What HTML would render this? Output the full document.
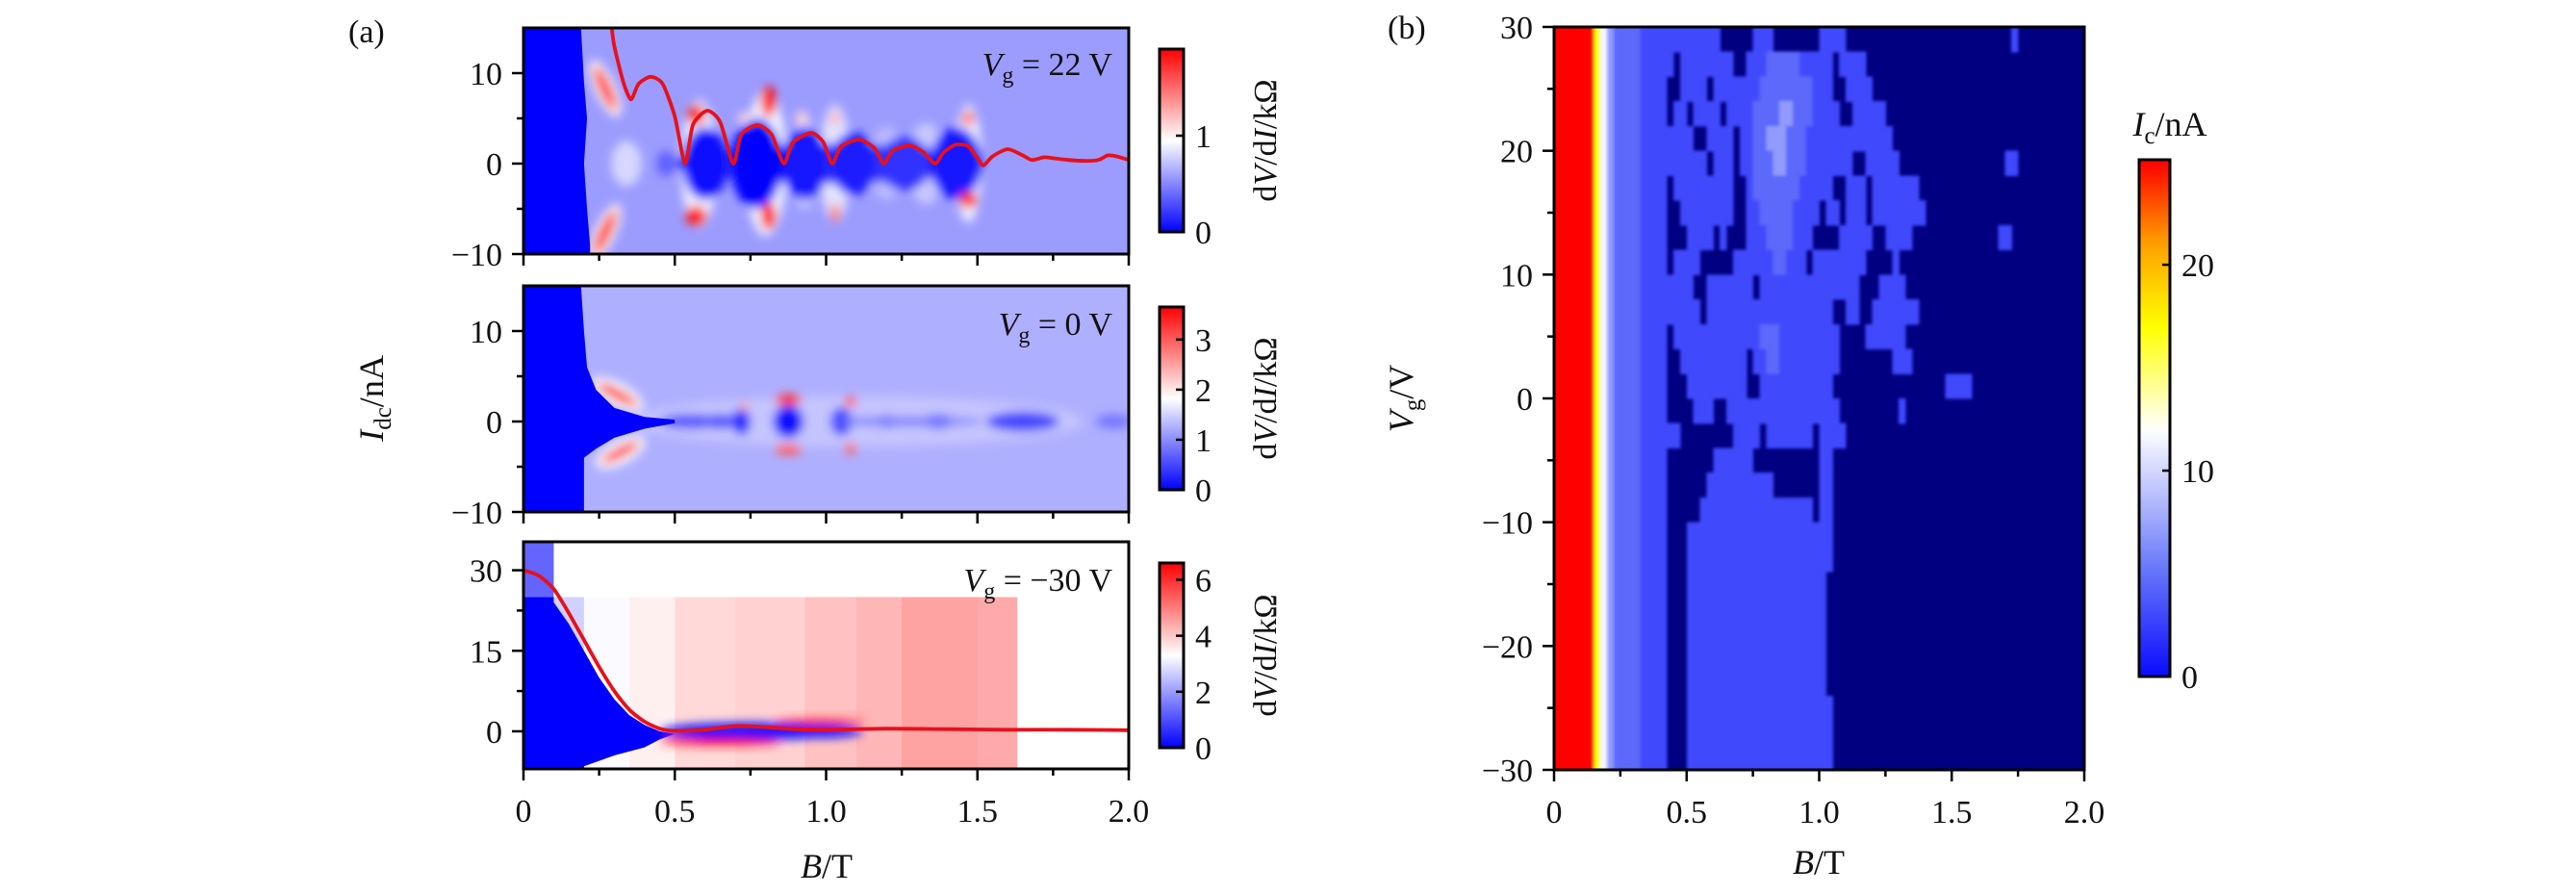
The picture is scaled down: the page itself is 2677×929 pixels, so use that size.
<!DOCTYPE html>
<html><head><meta charset="utf-8"><style>
html,body{margin:0;padding:0;background:#fff;}
svg{display:block;font-family:"Liberation Serif",serif;}
</style></head><body>
<svg id="fig" width="2677" height="929" viewBox="0 0 2677 929" xmlns="http://www.w3.org/2000/svg">
<defs>
<filter id="blur" x="-30%" y="-30%" width="160%" height="160%"><feGaussianBlur stdDeviation="5"/></filter>
<filter id="blurB" x="-5%" y="-5%" width="110%" height="110%"><feGaussianBlur stdDeviation="1.6"/></filter>
<clipPath id="clipTop"><rect x="544" y="29" width="629" height="235"/></clipPath>
<clipPath id="clipMid"><rect x="544" y="297" width="629" height="235"/></clipPath>
<clipPath id="clipBot"><rect x="544" y="563" width="629" height="236"/></clipPath>
<clipPath id="clipB"><rect x="1615" y="28" width="551" height="772"/></clipPath>
</defs>
<g id="layer"></g>
</svg>
<script>
// ---------- data: panel (a) top, Vg = 22 V ----------
const topCurveB = [0.29,0.30,0.33,0.355,0.38,0.42,0.46,0.50,0.534,0.56,0.607,0.65,0.693,0.72,0.773,0.82,0.86,0.89,0.95,0.99,1.02,1.05,1.11,1.16,1.19,1.22,1.275,1.32,1.36,1.39,1.43,1.47,1.50,1.52,1.55,1.60,1.65,1.68,1.72,1.75,1.80,1.86,1.90,1.93,1.96,2.0];
const topCurveI = [15.5,13,9,7.1,8.8,9.6,8.8,5.2,0,4.3,5.85,4.6,0,3.2,4.26,3.2,0,2.3,3.4,2.4,0,1.9,2.66,1.7,0,1.4,2.0,1.3,0,1.3,2.1,1.9,0.6,-0.2,0.8,1.6,0.9,0.4,0.7,0.6,0.4,0.3,0.4,0.9,0.8,0.4];
const topScB = [0,0.19,0.20,0.21,0.20,0.21,0.22,0.22,0];
const topScI = [15,15,9,5,0,-5,-9,-10,-10];
// blobs: B, I, halfwidth B, halfheight I, dV/dI, rotation
const topBlobs = [
 [0.58,0,0.06,7,0.9,0],[0.8,0,0.07,8,0.9,0],[1.03,0,0.05,6.5,0.85,0],[1.47,0,0.045,6.5,0.9,0],[0.93,0,0.05,5,0.75,0],[1.2,0,0.06,4,0.7,0],[1.33,0,0.06,4.5,0.75,0],
 [0.27,8.3,0.035,3.4,1.0,-25],[0.27,-7.6,0.035,3.4,1.0,25],[0.34,0,0.05,2.5,0.8,0],
 [1.0,0,0.5,2.2,0.2,0],[0.6,0,0.075,4,0.05,0],[0.77,0,0.085,5,0.0,0],[0.93,0,0.075,4,0.08,0],[1.09,0,0.075,3.5,0.1,0],[1.26,0,0.085,3,0.18,0],[1.43,0,0.085,4,0.08,0],[0.47,0,0.03,1.4,0.35,0],
 [0.57,5.4,0.03,1.1,1.7,0],[0.57,-5.8,0.035,1.1,1.8,0],[0.81,6.9,0.024,1.7,1.9,0],[0.81,-5.8,0.024,1.5,1.9,0],[1.03,5,0.012,0.8,1.3,0],[1.03,-5.5,0.015,1,1.5,0],[1.47,5,0.02,0.8,1.5,0],[1.47,-4,0.03,0.9,1.7,0],[0.73,5,0.02,0.7,1.1,0],[0.92,5,0.02,0.8,1.1,0],
 [0.27,8.3,0.018,2.6,1.9,-25],[0.27,-7.6,0.018,2.6,1.9,25]
];
const topBg = 0.58, topMax = 1.9, topTicks = [0,1];
// ---------- data: panel (a) middle, Vg = 0 V ----------
const midScB = [0,0.19,0.20,0.21,0.24,0.30,0.40,0.50,0.50,0.40,0.30,0.24,0.20,0.20,0];
const midScI = [15,15,10,6,3.5,1.5,0.5,0.2,-0.2,-0.8,-1.8,-3,-4,-10,-10];
const midBlobs = [
 [1.1,0,0.75,2.8,1.4,0],[0.31,3,0.095,1.3,1.8,28],[0.32,-3.4,0.09,1.3,1.8,-28],
 [0.55,0,0.1,0.8,0.6,0],[0.65,0,0.06,0.8,0.6,0],[0.72,0,0.03,1.5,0.3,0],[0.875,0,0.05,1.8,0.05,0],[1.05,0,0.035,1.5,0.3,0],[1.2,0,0.03,0.7,0.7,0],[1.37,0,0.05,0.8,0.6,0],[1.65,0,0.12,1.1,0.5,0],[1.95,0,0.06,0.8,0.85,0],[1.27,0,0.25,0.5,0.9,0],
 [0.875,2.4,0.045,0.6,3.3,0],[0.875,-3.1,0.045,0.6,3.0,0],[1.08,2.2,0.02,0.6,3.0,0],[1.08,-3,0.02,0.6,3.0,0],[0.73,1.6,0.015,0.5,2.5,0],
 [0.31,3,0.075,0.55,3.5,28],[0.32,-3.4,0.07,0.55,3.4,-28]
];
const midBg = 1.25, midMax = 3.65, midTicks = [0,1,2,3];
// ---------- data: panel (a) bottom, Vg = -30 V ----------
const botCurveB = [0,0.05,0.1,0.15,0.2,0.25,0.3,0.35,0.4,0.45,0.5,0.6,0.7,0.8,0.9,1.0,1.2,1.4,1.6,1.8,2.0];
const botCurveI = [30,29,26.5,22,17,12,7.5,4,1.8,0.5,0.1,0.3,1.0,0.8,0.4,0.3,0.5,0.4,0.3,0.3,0.2];
const bandStart = [0.1,0.2,0.35,0.5,0.7,0.93,1.1,1.25,1.5];
const bandEnd   = [0.2,0.35,0.5,0.7,0.93,1.1,1.25,1.5,1.63];
const bandVal   = [2.7,3.25,3.5,3.8,3.9,4.1,4.25,4.5,4.4];
const botScB = [0,0.1,0.1,0.15,0.2,0.25,0.3,0.35,0.4,0.45,0.5,0.45,0.4,0.3,0.2,0.2,0];
const botScI = [25,25,24,20,15,10,6,3,1.2,0,-0.5,-1.5,-3,-4.5,-6.5,-7,-7];
const botBlobs = [
 [0.75,0,0.3,1.6,0.1,0],[0.98,0,0.14,1.2,0.2,0],
 [0.65,-2.0,0.2,0.7,6.3,0],[0.98,1.8,0.15,0.6,6.0,0],[0.52,-1.8,0.06,0.6,6.0,0]
];
const botBlock = [0,0.1,25,35.3,1.3];
const botMax = 6.6, botTicks = [0,2,4,6];
// ---------- data: panel (b), Ic map, rows Vg 30..-30 step 2, cols B step 0.025 ----------
const icPrefix = "RRRRRRYW322221111";
const icRows = [
"11111111000001110000000111100000000000000000000000001",
"10111111110011122222111110111100000000000000000000000",
"00111101111111222222221110011110000000000000000000000",
"01101111011112222332221111001111100000000000000000000",
"11110011110112233322211111111111110000000000000000000",
"11111101110112223322211111110011111000000000000000011",
"01111111110012222222111110011101111111000000000000000",
"00111111110011222221111011011101111111100000000000000",
"00011110100011122221110000111110011110000000000000110",
"01111000001111112211101111111100001000000000000000000",
"11110011111110111111111111111000111100000000000000000",
"11111011111111111111111110011001111111000000000000000",
"01111111111111222111111111000011111100000000000000000",
"00111111111101122111111111000000001110000000000000000",
"00011111111100111111111110000000000000000011110000000",
"00001110011111111111111111000000000100000000000000000",
"11000000001111011111110111100000000000000000000000000",
"00000001111110000000000110000000000000000000000000000",
"00000011111111110000000110000000000000000000000000000",
"00000111111111111111110110000000000000000000000000000",
"00011111111111111111111110000000000000000000000000000",
"00011111111111111111111110000000000000000000000000000",
"00011111111111111111111100000000000000000000000000000",
"00011111111111111111111100000000000000000000000000000",
"00011111111111111111111100000000000000000000000000000",
"00011111111111111111111100000000000000000000000000000",
"00011111111111111111111100000000000000000000000000000",
"00011111111111111111111110000000000000000000000000000",
"00011111111111111111111110000000000000000000000000000",
"00011111111111111111111110000000000000000000000000000"
];
const icCodes = "0123WYR";
const icVals = [-1,3,4.5,7,11.5,17,25];
const icMax = 25.1, icTicks = [0,10,20];

// ---------- helpers ----------
const NS = "http://www.w3.org/2000/svg";
const layer = document.getElementById('layer');
function mk(tag, attrs, parent){const e=document.createElementNS(NS,tag);for(const k in attrs)e.setAttribute(k,attrs[k]);(parent||layer).appendChild(e);return e;}
const ax = B => 544 + B*629/2;
const yTop = I => 29 + (15-I)*235/25;
const yMid = I => 297 + (15-I)*235/25;
const yBot = I => 563 + (35.3-I)*236/42.3;
const bx = B => 1615 + B*551/2;
const by = V => 28 + (30-V)*772/60;
function bwr(t){t=Math.max(0,Math.min(1,t));let r,g,b;if(t<0.5){r=g=Math.round(510*t);b=255;}else{r=255;g=b=Math.round(510*(1-t));}return `rgb(${r},${g},${b})`;}
const icStops=[[0,[10,10,255]],[5,[100,115,250]],[12,[255,255,255]],[17,[255,255,0]],[21,[255,160,0]],[25,[255,0,0]]];
function icColor(v){if(v<0)return "#000080";for(let i=0;i<icStops.length-1;i++){const a=icStops[i],b=icStops[i+1];if(v<=b[0]){const f=(v-a[0])/(b[0]-a[0]);return `rgb(${a[1].map((c,j)=>Math.round(c+(b[1][j]-c)*f)).join(',')})`;}}return "rgb(255,0,0)";}

function drawBlobs(list, yf, vmax, parent, sy){
  list.forEach(bl=>{
    const cx=ax(bl[0]), cy=yf(bl[1]);
    const e=mk('ellipse',{cx:cx,cy:cy,rx:bl[2]*629/2,ry:bl[3]*sy,fill:bwr(bl[4]/vmax),transform:`rotate(${bl[5]} ${cx} ${cy})`},parent);
    
    
  });
}
function poly(Bs,Is,yf,fill,parent,name){
  const pts=Bs.map((b,i)=>ax(b)+','+yf(Is[i])).join(' ');
  const e=mk('polygon',{points:pts,fill:fill},parent);
  
  
}
function curve(Bs,Is,yf,parent,name){
  const P=Bs.map((b,i)=>[ax(b),yf(Is[i])]);
  let d='M'+P[0][0].toFixed(1)+','+P[0][1].toFixed(1);
  for(let i=0;i<P.length-1;i++){
    const p0=P[Math.max(0,i-1)],p1=P[i],p2=P[i+1],p3=P[Math.min(P.length-1,i+2)];
    const t=0.12;
    const c1=[p1[0]+(p2[0]-p0[0])*t,p1[1]+(p2[1]-p0[1])*t];
    const c2=[p2[0]-(p3[0]-p1[0])*t,p2[1]-(p3[1]-p1[1])*t];
    d+=` C${c1[0].toFixed(1)},${c1[1].toFixed(1)} ${c2[0].toFixed(1)},${c2[1].toFixed(1)} ${p2[0].toFixed(1)},${p2[1].toFixed(1)}`;
  }
  const e=mk('path',{d:d,fill:'none',stroke:'#e8101a','stroke-width':3.8,'stroke-linejoin':'round'},parent);
  
  
}
function text(x,y,str,attrs,parent){const t=mk('text',Object.assign({x:x,y:y,'font-size':34,fill:'#111'},attrs||{}),parent);t.textContent=str;return t;}
function frame(x,y,w,h,name){const r=mk('rect',{x:x,y:y,width:w,height:h,fill:'none',stroke:'#000','stroke-width':3});}
function xTicks(x0f,yb,labels,name){
  const g=mk('g',{});
  [0,0.25,0.5,0.75,1,1.25,1.5,1.75,2].forEach(v=>{const maj=(v*2)%1===0;mk('line',{x1:x0f(v),x2:x0f(v),y1:yb,y2:yb+(maj?12:7),stroke:'#000','stroke-width':2.5},g);});
  if(labels){['0','0.5','1.0','1.5','2.0'].forEach((s,i)=>{text(x0f(i*0.5),yb+55,s,{'text-anchor':'middle'},g);});}
}
function yTicks(xl,yf,majors,minors,name){
  const g=mk('g',{});
  majors.forEach(v=>{mk('line',{x1:xl-12,x2:xl,y1:yf(v),y2:yf(v),stroke:'#000','stroke-width':2.5},g);text(xl-22,yf(v)+12,v<0?'−'+(-v):String(v),{'text-anchor':'end'},g);});
  minors.forEach(v=>{mk('line',{x1:xl-7,x2:xl,y1:yf(v),y2:yf(v),stroke:'#000','stroke-width':2.5},g);});
}
function colorbar(x,y0,y1,w,vmax,ticks,cfun,id,name){
  const g=mk('g',{});
  const grad=mk('linearGradient',{id:id,x1:0,y1:1,x2:0,y2:0},document.querySelector('defs'));
  for(let i=0;i<=40;i++){mk('stop',{offset:i/40,'stop-color':cfun(vmax*i/40)},grad);}
  mk('rect',{x:x,y:y0,width:w,height:y1-y0,fill:`url(#${id})`,stroke:'#000','stroke-width':3},g);
  ticks.forEach(v=>{const yy=y1-(y1-y0)*v/vmax;mk('line',{x1:x+w-8,x2:x+w,y1:yy,y2:yy,stroke:'#000','stroke-width':2.5},g);text(x+w+12,yy+12,String(v),{},g);});
}
function vgLabel(xr,y,val,name){
  const t=mk('text',{x:xr,y:y,'font-size':34,'text-anchor':'end',fill:'#111'});
  
  const a=mk('tspan',{'font-style':'italic'},t);a.textContent='V';
  const b=mk('tspan',{'font-size':24,dy:8},t);b.textContent='g';
  const c=mk('tspan',{dy:-8},t);c.textContent=' = '+val+' V';
}
function cbLabel(x,yc,name){
  const t=mk('text',{x:0,y:0,'font-size':34,'text-anchor':'middle',fill:'#111',transform:`translate(${x},${yc}) rotate(-90)`});
  
  const parts=[['d',0],['V',1],['/d',0],['I',1],['/kΩ',0]];
  parts.forEach(p=>{const s=mk('tspan',p[1]?{'font-style':'italic'}:{},t);s.textContent=p[0];});
}

// ---------- panel (a) top ----------
{
  const g=mk('g',{'clip-path':'url(#clipTop)'});
  mk('rect',{x:544,y:29,width:629,height:235,fill:bwr(topBg/topMax)},g);
  const fb=mk('g',{filter:'url(#blur)'},g);
  drawBlobs(topBlobs,yTop,topMax,fb,9.4);
  poly(topScB,topScI,yTop,'#0000ff',g,'superconducting-region-vg22');
  curve(topCurveB,topCurveI,yTop,g,'critical-current-curve-vg22');
  frame(544,29,629,235,'axes-vg22');
  xTicks(ax,264,false,'x-ticks-vg22');
  yTicks(544,yTop,[10,0,-10],[5,-5],'y-ticks-vg22');
  vgLabel(1156,78,'22','label-vg22');
  colorbar(1205,51,241,25,topMax,topTicks,v=>bwr(v/topMax),'cbTop','colorbar-vg22');
  cbLabel(1326,146,'colorbar-title-vg22');
}
// ---------- panel (a) middle ----------
{
  const g=mk('g',{'clip-path':'url(#clipMid)'});
  mk('rect',{x:544,y:297,width:629,height:235,fill:bwr(midBg/midMax)},g);
  const fb=mk('g',{filter:'url(#blur)'},g);
  drawBlobs(midBlobs,yMid,midMax,fb,9.4);
  poly(midScB,midScI,yMid,'#0000ff',g,'superconducting-region-vg0');
  frame(544,297,629,235,'axes-vg0');
  xTicks(ax,532,false,'x-ticks-vg0');
  yTicks(544,yMid,[10,0,-10],[5,-5],'y-ticks-vg0');
  vgLabel(1156,348,'0','label-vg0');
  colorbar(1205,319,509,25,midMax,midTicks,v=>bwr(v/midMax),'cbMid','colorbar-vg0');
  cbLabel(1326,414,'colorbar-title-vg0');
}
// ---------- panel (a) bottom ----------
{
  const g=mk('g',{'clip-path':'url(#clipBot)'});
  mk('rect',{x:544,y:563,width:629,height:236,fill:'#fff'},g);
  bandStart.forEach((b0,i)=>{
    const r=mk('rect',{x:ax(b0),y:yBot(25),width:ax(bandEnd[i])-ax(b0)+0.5,height:yBot(-7.5)-yBot(25),fill:bwr(bandVal[i]/botMax)},g);
    
    
  });
  const blk=mk('rect',{x:ax(botBlock[0]),y:yBot(botBlock[3]),width:ax(botBlock[1])-ax(botBlock[0]),height:yBot(botBlock[2])-yBot(botBlock[3]),fill:bwr(botBlock[4]/botMax)},g);
  
  
  poly(botScB,botScI,yBot,'#0000ff',g,'superconducting-region-vg-30');
  const fb=mk('g',{filter:'url(#blur)'},g);
  drawBlobs(botBlobs,yBot,botMax,fb,236/42.3);
  curve(botCurveB,botCurveI,yBot,g,'critical-current-curve-vg-30');
  frame(544,563,629,236,'axes-vg-30');
  xTicks(ax,799,true,'x-ticks-vg-30');
  yTicks(544,yBot,[30,15,0],[22.5,7.5],'y-ticks-vg-30');
  vgLabel(1156,614,'−30','label-vg-30');
  colorbar(1205,585,777,25,botMax,botTicks,v=>bwr(v/botMax),'cbBot','colorbar-vg-30');
  cbLabel(1326,681,'colorbar-title-vg-30');
}
// axis titles panel (a)
{
  const t=mk('text',{x:0,y:0,'font-size':36,'text-anchor':'middle',fill:'#111',transform:'translate(398,414) rotate(-90)'});
  
  let s=mk('tspan',{'font-style':'italic'},t);s.textContent='I';
  s=mk('tspan',{'font-size':25,dy:8},t);s.textContent='dc';
  s=mk('tspan',{dy:-8},t);s.textContent='/nA';
  const x=mk('text',{x:859,y:912,'font-size':36,'text-anchor':'middle',fill:'#111'});
  
  s=mk('tspan',{'font-style':'italic'},x);s.textContent='B';
  s=mk('tspan',{},x);s.textContent='/T';
  const pa=text(362,44,'(a)',{'font-size':34});
  
}
// ---------- panel (b) ----------
{
  const g=mk('g',{'clip-path':'url(#clipB)','shape-rendering':'crispEdges'});
  mk('rect',{x:1615,y:28,width:551,height:772,fill:'#000080'},g);
  const gb=mk('g',{filter:'url(#blurB)'},g);
  const edge=mk('rect',{x:1600,y:10,width:20,height:810,fill:'#ff0000'},gb);
  
  
  icRows.forEach((suf,r)=>{
    const row=(icPrefix+suf).padEnd(80,'0');
    const vTop=30-2*r, vBot=28-2*r;
    for(let c=0;c<80;c++){
      const v=icVals[icCodes.indexOf(row[c])];
      if(v<0)continue;
      const ext=(r===0?12:0), extB=(r===icRows.length-1?12:0);
      const cell=mk('rect',{x:bx(c*0.025),y:by(vTop)-ext,width:bx((c+1)*0.025)-bx(c*0.025)+0.6,height:by(vBot)-by(vTop)+0.6+ext+extB,fill:icColor(v)},gb);
      
      
    }
  });
  frame(1615,28,551,772,'axes-b');
  xTicks(bx,800,true,'x-ticks-b');
  yTicks(1615,by,[30,20,10,0,-10,-20,-30],[25,15,5,-5,-15,-25],'y-ticks-b');
  colorbar(2223,166,703,32,icMax,icTicks,icColor,'cbB','colorbar-ic');
  const ct=mk('text',{x:2255,y:141,'font-size':36,'text-anchor':'middle',fill:'#111'});
  
  let s=mk('tspan',{'font-style':'italic'},ct);s.textContent='I';
  s=mk('tspan',{'font-size':25,dy:8},ct);s.textContent='c';
  s=mk('tspan',{dy:-8},ct);s.textContent='/nA';
  const t=mk('text',{x:0,y:0,'font-size':36,'text-anchor':'middle',fill:'#111',transform:'translate(1468,414) rotate(-90)'});
  
  s=mk('tspan',{'font-style':'italic'},t);s.textContent='V';
  s=mk('tspan',{'font-size':25,dy:8},t);s.textContent='g';
  s=mk('tspan',{dy:-8},t);s.textContent='/V';
  const x=mk('text',{x:1890,y:908,'font-size':36,'text-anchor':'middle',fill:'#111'});
  
  s=mk('tspan',{'font-style':'italic'},x);s.textContent='B';
  s=mk('tspan',{},x);s.textContent='/T';
  const pb=text(1442,40,'(b)',{'font-size':34});
  
}
</script>
</body></html>
